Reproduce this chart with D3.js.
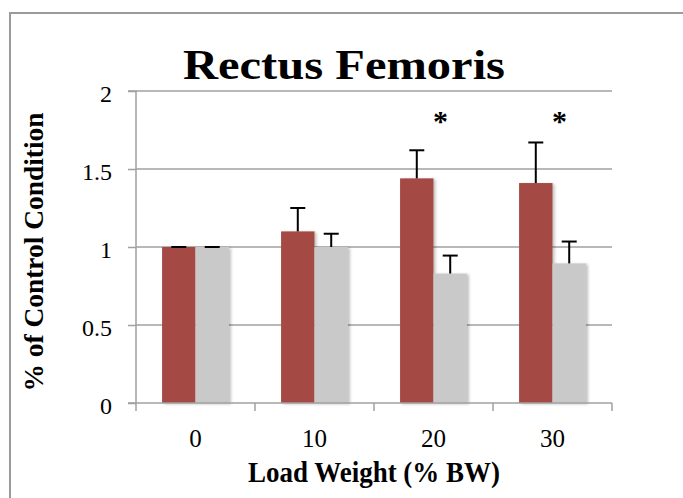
<!DOCTYPE html>
<html>
<head>
<meta charset="utf-8">
<script src="https://cdn.jsdelivr.net/npm/d3@7/dist/d3.min.js"></script>
<style>
  body { margin: 0; background: #fff; }
  svg { display: block; }
</style>
</head>
<body>
<svg id="canvas" width="683" height="498"></svg>
<script>
// data
const categories = ["0", "10", "20", "30"]
const seriesNames = ["loaded", "control"]
const loadedValues = [1.0, 1.10, 1.44, 1.41]
const loadedErrors = [0.0, 0.15, 0.18, 0.26]
const controlValues = [1.0, 1.0, 0.83, 0.895]
const controlErrors = [0.0, 0.085, 0.115, 0.14]
const significant = [false, false, true, true]
const yTicks = [0, 0.5, 1, 1.5, 2]

const colors = { loaded: "#a54a45", control: "#c9c9c9" }
const serif = "'Liberation Serif', 'DejaVu Serif', serif"

const rows = categories.map((c, i) => ({
  cat: c,
  bars: [
    { s: "loaded", v: loadedValues[i], e: loadedErrors[i] },
    { s: "control", v: controlValues[i], e: controlErrors[i] }
  ],
  sig: significant[i]
}))

const svg = d3.select('#canvas')

// outer frame (chart area border)
svg.append("path")
  .attr("d", "M10,498 V13 H683")
  .attr("fill", "none")
  .attr("stroke", "#9a9a9a")
  .attr("stroke-width", 2)

// soft shadow like the office chart
const defs = svg.append("defs")
defs.append("filter").attr("id", "shadow")
  .attr("x", "-20%").attr("y", "-5%").attr("width", "150%").attr("height", "115%")
  .append("feDropShadow")
  .attr("dx", 2).attr("dy", 1).attr("stdDeviation", 1.5)
  .attr("flood-color", "#000").attr("flood-opacity", 0.25)

const plotLeft = 136, plotRight = 612, plotTop = 91, plotBottom = 403

const x0 = d3.scaleBand().domain(categories).range([plotLeft, plotRight]).padding(0)
const x1 = d3.scaleBand().domain(seriesNames).range([0, x0.bandwidth()])
  .paddingInner(0).paddingOuter(0.78)
const y = d3.scaleLinear().domain([0, 2]).range([plotBottom, plotTop])

// gridlines
svg.append("g")
  .selectAll("line")
  .data(yTicks.filter(t => t > 0))
  .enter()
  .append("line")
  .attr("x1", plotLeft).attr("x2", plotRight)
  .attr("y1", d => y(d)).attr("y2", d => y(d))
  .attr("stroke", "#a0a0a0")
  .attr("stroke-width", 1.5)

// bars
const groups = svg.append("g")
  .selectAll("g")
  .data(rows)
  .enter()
  .append("g")
  .attr("transform", d => `translate(${x0(d.cat)},0)`)

groups.selectAll("rect")
  .data(d => d.bars)
  .enter()
  .append("rect")
  .attr("x", d => x1(d.s))
  .attr("y", d => y(d.v))
  .attr("width", x1.bandwidth())
  .attr("height", d => y(0) - y(d.v))
  .attr("fill", d => colors[d.s])
  .attr("filter", "url(#shadow)")

// error bars (upper only)
const err = groups.selectAll("g.err")
  .data(d => d.bars)
  .enter()
  .append("g")
  .attr("class", "err")
  .attr("stroke", "#000")
  .attr("stroke-width", 2)

err.append("line")
  .attr("x1", d => x1(d.s) + x1.bandwidth() / 2)
  .attr("x2", d => x1(d.s) + x1.bandwidth() / 2)
  .attr("y1", d => y(d.v))
  .attr("y2", d => y(d.v + d.e))
err.append("line")
  .attr("x1", d => x1(d.s) + x1.bandwidth() / 2 - 7.5)
  .attr("x2", d => x1(d.s) + x1.bandwidth() / 2 + 7.5)
  .attr("y1", d => y(d.v + d.e))
  .attr("y2", d => y(d.v + d.e))

// significance stars
groups.filter(d => d.sig)
  .append("text")
  .attr("x", x0.bandwidth() / 2 + 7)
  .attr("y", 131)
  .attr("text-anchor", "middle")
  .attr("font-family", serif)
  .attr("font-weight", "bold")
  .attr("font-size", 30)
  .text("*")

// y axis
const yAxis = svg.append("g")
  .attr("transform", `translate(${plotLeft},0)`)
  .call(d3.axisLeft(y).tickValues(yTicks).tickSize(8).tickPadding(16)
    .tickFormat(d => String(d)))
yAxis.selectAll("line, path").attr("stroke", "#a0a0a0").attr("stroke-width", 1.5)
yAxis.select("path").attr("d", `M-8,${plotBottom}H0V${plotTop}H-8`)
yAxis.selectAll("text")
  .attr("font-family", serif)
  .attr("font-size", 24)
  .attr("dy", "0.45em")
  .attr("fill", "#000")

// x axis: ticks at band edges, labels at band centres
const edges = categories.map(c => x0(c)).concat([plotRight])
const xAxis = svg.append("g")
svg.append("line")
  .attr("x1", plotLeft).attr("x2", plotRight)
  .attr("y1", plotBottom).attr("y2", plotBottom)
  .attr("stroke", "#a0a0a0").attr("stroke-width", 1.5)
xAxis.selectAll("line")
  .data(edges)
  .enter()
  .append("line")
  .attr("x1", d => d).attr("x2", d => d)
  .attr("y1", plotBottom).attr("y2", plotBottom + 8)
  .attr("stroke", "#a0a0a0").attr("stroke-width", 1.5)
xAxis.selectAll("text")
  .data(categories)
  .enter()
  .append("text")
  .attr("x", d => x0(d) + x0.bandwidth() / 2)
  .attr("y", 447)
  .attr("text-anchor", "middle")
  .attr("font-family", serif)
  .attr("font-size", 25)
  .text(d => d)

// titles
svg.append("text")
  .attr("x", 344).attr("y", 79)
  .attr("text-anchor", "middle")
  .attr("font-family", serif)
  .attr("font-weight", "bold")
  .attr("font-size", 43)
  .attr("textLength", 322)
  .attr("lengthAdjust", "spacingAndGlyphs")
  .text("Rectus Femoris")

svg.append("text")
  .attr("x", 374).attr("y", 482)
  .attr("text-anchor", "middle")
  .attr("font-family", serif)
  .attr("font-weight", "bold")
  .attr("font-size", 29)
  .attr("textLength", 252)
  .attr("lengthAdjust", "spacingAndGlyphs")
  .text("Load Weight (% BW)")

svg.append("text")
  .attr("transform", "translate(43,252) rotate(-90)")
  .attr("text-anchor", "middle")
  .attr("font-family", serif)
  .attr("font-weight", "bold")
  .attr("font-size", 28)
  .attr("textLength", 279)
  .attr("lengthAdjust", "spacingAndGlyphs")
  .text("% of Control Condition")
</script>
</body>
</html>
